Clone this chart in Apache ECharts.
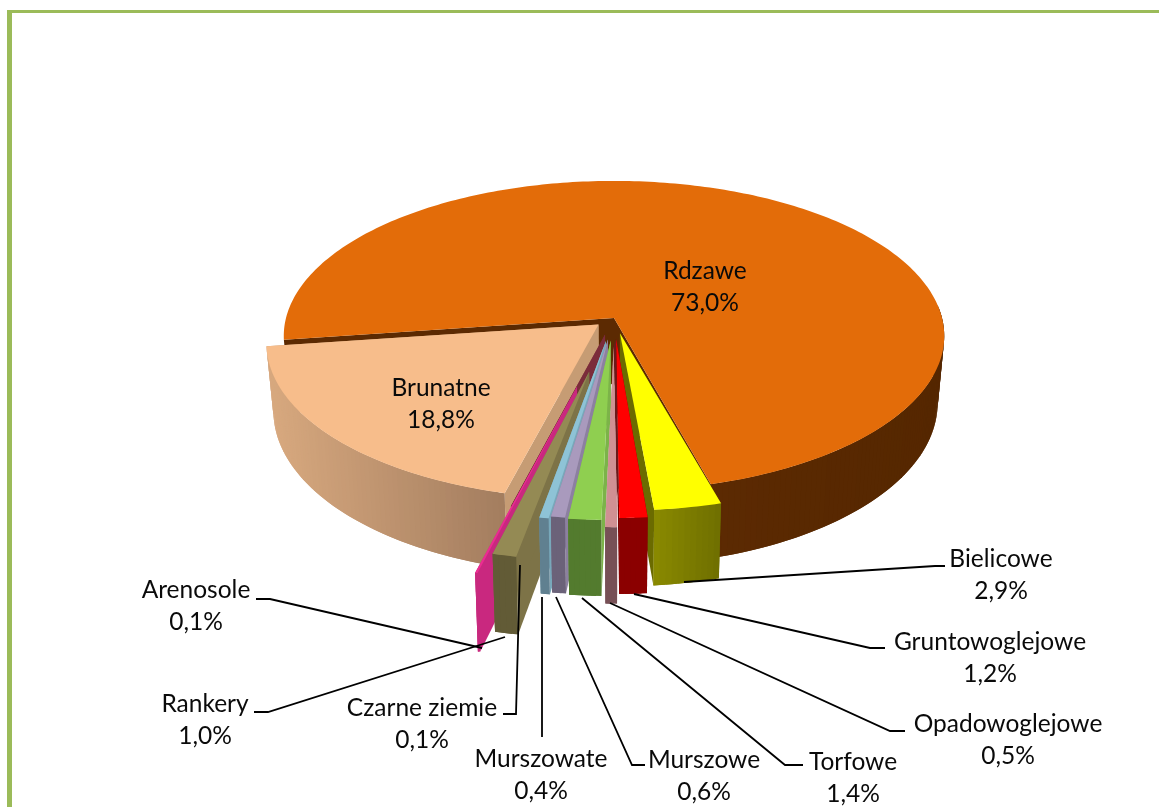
<!DOCTYPE html>
<html><head><meta charset="utf-8">
<style>html,body{margin:0;padding:0;background:#fff}#c{width:1159px;height:807px}</style>
<script src="https://cdn.jsdelivr.net/npm/echarts@6/dist/echarts.min.js"></script>
</head><body><div id="c"></div>
<script>
const categories = ['Rdzawe','Bielicowe','Gruntowoglejowe','Opadowoglejowe','Torfowe','Murszowe','Murszowate','Czarne ziemie','Rankery','Arenosole','Brunatne'];
const values = [73.0,2.9,1.2,0.5,1.4,0.6,0.4,0.1,1.0,0.1,18.8];

// styling / layout, index-aligned with categories
const explode = [0,0.10,0.135,0.18,0.145,0.14,0.15,0.11,0.345,0.44,0.063];
const angleShift = [0,-0.35,0,-0.1,0,0,0,4,0,0,0];
const topColors  = ['#E36C09','#FFFF00','#FF0000','#D09093','#8FCF50','#A99ABD','#8EC3D6','#7B2C3B','#948A54','#EC2C92','#F7BD8B'];
const wallColors = ['#5C2A02','#6B6B00','#7A0000','#B98285','#7CB349','#8C80A0','#78A8BA','#7B2C3B','#7D7347','#C9287F','#C69C74'];
const sideColors = [['#5C2A02','#552700'],['#8A8A00','#6F6F00'],['#8B0000','#8B0000'],['#775056','#775056'],['#537B2E','#537B2E'],['#6B6279','#6B6279'],['#608090','#608090'],['#7B2C3B','#7B2C3B'],['#625B36','#625B36'],['#C82A7E','#C82A7E'],['#D8A97F','#A37D5F']];
const drawOrder = [0,10,1,2,7,9,8,6,5,4,3];
const startAngle = 262.0;
const G = {cx:614, cy:318, Rx:328, Ry:153, p:0.116, H:66, taper:0.98};
const gapFill = {slice:3, neighbour:2, reach:0.85, color:'#6A1A1A'};

const labelCenters = {Rdzawe:[705,287],Brunatne:[441,404],Bielicowe:[1001,575],Gruntowoglejowe:[990,658],Opadowoglejowe:[1008,740],Torfowe:[853,778],Murszowe:[704,776],Murszowate:[541,775],'Czarne ziemie':[422,724],Rankery:[205,720],Arenosole:[196,606]};
const leaders = {
  Bielicowe:[[684,582],[935,566],[945,566]],
  Gruntowoglejowe:[[634,594],[870,648],[885,648]],
  Opadowoglejowe:[[610,603],[890,731],[905,731]],
  Torfowe:[[582,598],[785,765],[803,765]],
  Murszowe:[[556,597],[632,765],[645,765]],
  Murszowate:[[542,597],[542,737]],
  'Czarne ziemie':[[520,565],[516,714],[503,714]],
  Rankery:[[505,637],[268,712],[254,712]],
  Arenosole:[[482,648],[270,599],[256,599]]
};

const rad = d => d*Math.PI/180;
const ranges = [];
(function(){let a=startAngle;values.forEach((v,i)=>{const b=a+v*3.6;ranges.push([a+angleShift[i],b+angleShift[i]]);a=b;});})();

function proj(u,v,low){
  const s=1/(1-G.p*v);
  let x=G.cx+G.Rx*u*s, y=G.cy+G.Ry*v*s;
  if(low){x=G.cx+(x-G.cx)*G.taper;y+=G.H*s;}
  return [x,y];
}
function pt(theta,r,i,low){
  const m=rad((ranges[i][0]+ranges[i][1])/2), e=explode[i], t=rad(theta);
  return proj(r*Math.sin(t)+e*Math.sin(m), -r*Math.cos(t)-e*Math.cos(m), low);
}
function arc(a,b,i,low){
  const pts=[], n=Math.max(2,Math.ceil((b-a)));
  for(let k=0;k<=n;k++) pts.push(pt(a+(b-a)*k/n,1,i,low));
  return pts;
}
function wall(theta,i){
  return [pt(theta,0,i,false),pt(theta,1,i,false),pt(theta,1,i,true),pt(theta,0,i,true)];
}
function renderSlice(params,api){
  const i=api.value(0), [a,b]=ranges[i], kids=[];
  const poly=(points,fill)=>kids.push({type:'polygon',shape:{points},style:{fill,stroke:null}});
  if(i===gapFill.slice){
    const g=gapFill, bn=ranges[g.neighbour][1];
    poly([pt(bn,0,g.neighbour,false),pt(bn,g.reach,g.neighbour,false),pt(a,g.reach,i,false),pt(a,0,i,false)],g.color);
  }
  poly(wall(a,i),wallColors[i]);
  poly(wall(b,i),wallColors[i]);
  // outer rim, in overlapping strips so no seams show; only the part facing the viewer
  let sa,sb;
  if(b>360){sa=Math.max(a,360+85);sb=Math.min(b,360+275);}
  else{sa=Math.max(a,85);sb=Math.min(b,275);}
  if(sb>sa){
    const top=arc(sa,sb,i,false), low=arc(sa,sb,i,true), sc=sideColors[i];
    const xs=top.map(p=>p[0]), x0=Math.min(...xs), x1=Math.max(...xs), n=top.length-1;
    for(let k=0;k<n;k++){
      const e=Math.min(k+2,n);
      const t=x1>x0?((top[k][0]+top[k+1][0])/2-x0)/(x1-x0):0;
      poly([top[k],top[e],low[e],low[k]],echarts.color.lerp(t,sc));
    }
  }
  poly([pt(a,0,i,false)].concat(arc(a,b,i,false)),topColors[i]);
  return {type:'group',children:kids};
}
function renderLabel(params,api){
  const i=api.value(0), name=categories[i], c=labelCenters[name], kids=[];
  if(leaders[name]) kids.push({type:'polyline',shape:{points:leaders[name]},style:{stroke:'#000',lineWidth:1.8,fill:null}});
  kids.push({type:'text',style:{x:c[0],y:c[1],text:name+'\n'+values[i].toFixed(1).replace('.',',')+'%',align:'center',verticalAlign:'middle',fill:'#0a0a0a',font:'24.5px Lato',lineHeight:32.5}});
  return {type:'group',children:kids};
}
const chart=echarts.init(document.getElementById('c'),null,{renderer:'canvas'});
chart.setOption({
  animation:false,
  backgroundColor:'#fff',
  graphic:[
    {type:'rect',shape:{x:7,y:10,width:5,height:797},style:{fill:'#9BBB59'},silent:true},
    {type:'rect',shape:{x:7,y:10,width:1152,height:3},style:{fill:'#9BBB59'},silent:true}
  ],
  series:[
    {type:'custom',coordinateSystem:'none',renderItem:renderSlice,silent:true,data:drawOrder.map(i=>({name:categories[i],value:[i,values[i]]}))},
    {type:'custom',coordinateSystem:'none',renderItem:renderLabel,silent:true,z:5,data:categories.map((n,i)=>({name:n,value:[i,values[i]]}))}
  ]
});
</script></body></html>
